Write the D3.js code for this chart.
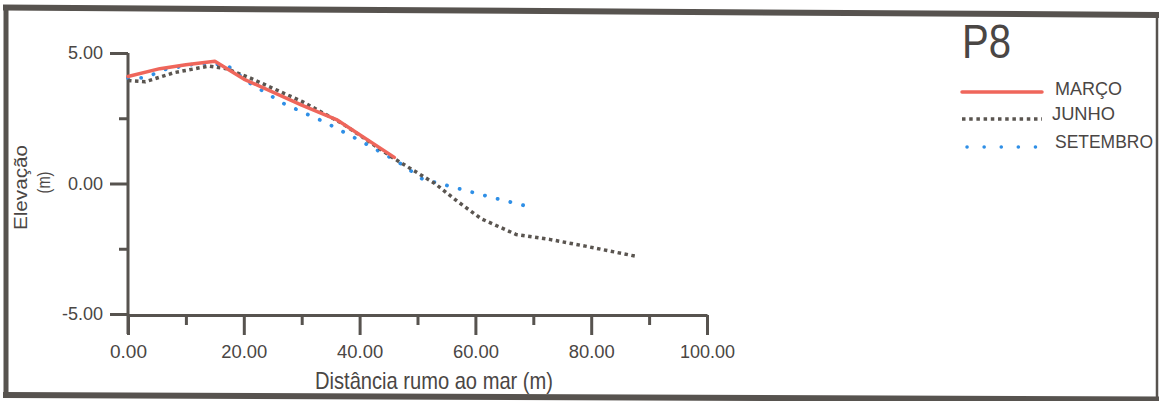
<!DOCTYPE html>
<html lang="pt">
<head>
<meta charset="UTF-8">
<title>P8</title>
<script src="https://d3js.org/d3.v7.min.js"></script>
<style>
  body { margin: 0; background: #fff; }
  svg text { font-family: "Liberation Sans", Arial, Helvetica, sans-serif; fill: #4a4644; }
  .axis path, .axis line { stroke: #57534f; stroke-width: 3px; }
  .axis text { font-size: 18px; fill: #4a4644; }
</style>
</head>
<body>
<svg id="chart" width="1159" height="401"></svg>
<script>
// values (distance m, elevation m)
const marcoDist = [0, 5.5, 10, 15, 20, 30, 36, 46];
const marcoElev = [4.1, 4.4, 4.55, 4.68, 4.0, 3.0, 2.45, 1.0];

const junhoDist = [0, 3, 8, 14, 17, 21, 30, 37, 46, 53, 57, 61, 67, 73, 79, 88];
const junhoElev = [3.95, 3.9, 4.25, 4.5, 4.4, 4.05, 3.15, 2.3, 0.95, 0.0, -0.7, -1.35, -1.95, -2.15, -2.4, -2.8];

const setDist = [0, 3, 6, 12, 17, 21, 27, 34, 40, 46.5, 51, 53, 58, 64, 69.5];
const setElev = [4.05, 4.05, 4.35, 4.6, 4.55, 3.85, 3.05, 2.35, 1.65, 0.85, 0.15, 0.05, -0.25, -0.6, -0.9];

const xMajor = [0, 20, 40, 60, 80, 100];
const xMinor = [10, 30, 50, 70, 90];
const yMajor = [-5, 0, 5];
const yMinor = [-2.5, 2.5];

const seriesNames = ['MARÇO', 'JUNHO', 'SETEMBRO'];

const svg = d3.select('#chart');

// frame (the scan is slightly tilted)
const ink = '#57534f';
svg.append('line').attr('x1', 3).attr('y1', 7.5).attr('x2', 1159).attr('y2', 15)
    .attr('stroke', ink).attr('stroke-width', 6);
svg.append('line').attr('x1', 6).attr('y1', 5).attr('x2', 6).attr('y2', 398)
    .attr('stroke', ink).attr('stroke-width', 5);
svg.append('line').attr('x1', 3).attr('y1', 395).attr('x2', 1159).attr('y2', 399.5)
    .attr('stroke', ink).attr('stroke-width', 6);
svg.append('line').attr('x1', 1157).attr('y1', 13).attr('x2', 1157).attr('y2', 400)
    .attr('stroke', ink).attr('stroke-width', 2.5);

const x = d3.scaleLinear().domain([0, 100]).range([128, 707]);
const y = d3.scaleLinear().domain([-5, 5]).range([314, 53]);

const fmt = d => d.toFixed(2);

// y axis
svg.append('line')
    .attr('x1', x(0)).attr('x2', x(0))
    .attr('y1', y(5)).attr('y2', y(-5) + 20)
    .attr('stroke', ink).attr('stroke-width', 3);

svg.append('g').attr('class', 'axis')
    .attr('transform', `translate(${x(0)},0)`)
    .call(d3.axisLeft(y).tickValues(yMajor).tickSize(18).tickSizeOuter(0)
        .tickPadding(7).tickFormat(fmt))
    .call(g => g.select('.domain').remove());

svg.append('g').attr('class', 'axis')
    .attr('transform', `translate(${x(0)},0)`)
    .call(d3.axisLeft(y).tickValues(yMinor).tickSize(9).tickFormat(''))
    .call(g => g.select('.domain').remove());

// x axis
svg.append('g').attr('class', 'axis')
    .attr('transform', `translate(0,${y(-5) + 1})`)
    .call(d3.axisBottom(x).tickValues(xMajor).tickSize(20).tickSizeOuter(0)
        .tickPadding(10).tickFormat(fmt))
    .call(g => g.selectAll('.tick text').attr('textLength', function () {
        return this.textContent.length > 4 ? (this.textContent.length > 5 ? 55 : 46) : 37;
    }).attr('lengthAdjust', 'spacingAndGlyphs'));

svg.append('g').attr('class', 'axis')
    .attr('transform', `translate(0,${y(-5) + 1})`)
    .call(d3.axisBottom(x).tickValues(xMinor).tickSize(10).tickFormat(''))
    .call(g => g.select('.domain').remove());

// axis titles
svg.append('text')
    .attr('transform', 'translate(434,389) scale(1,1.2)')
    .attr('text-anchor', 'middle')
    .attr('textLength', 238).attr('lengthAdjust', 'spacingAndGlyphs')
    .style('font-size', '20px')
    .text('Distância rumo ao mar (m)');

svg.append('text')
    .attr('transform', 'translate(27,187.5) rotate(-90)')
    .attr('text-anchor', 'middle')
    .attr('textLength', 85).attr('lengthAdjust', 'spacingAndGlyphs')
    .style('font-size', '18px')
    .text('Elevação');
svg.append('text')
    .attr('transform', 'translate(50,182.5) rotate(-90)')
    .attr('text-anchor', 'middle')
    .attr('textLength', 22).attr('lengthAdjust', 'spacingAndGlyphs')
    .style('font-size', '18px')
    .text('(m)');

// lines
const line = d3.line().x(d => x(d[0])).y(d => y(d[1]));

const styles = [
    { color: '#ef665b', width: 3.5, dash: null, cap: 'round', legendDash: null },
    { color: '#5a5550', width: 3.5, dash: '3.5,3.5', cap: 'butt', legendDash: '3.5,3.7' },
    { color: '#2f8fe6', width: 3.8, dash: '0.1,13', cap: 'round', legendDash: '0.1,17' }
];

const series = [
    d3.zip(marcoDist, marcoElev),
    d3.zip(junhoDist, junhoElev),
    d3.zip(setDist, setElev)
];

// draw setembro first, then junho, then março on top
[2, 1, 0].forEach(i => {
    svg.append('path')
        .datum(series[i])
        .attr('d', line)
        .attr('fill', 'none')
        .attr('stroke', styles[i].color)
        .attr('stroke-width', styles[i].width)
        .attr('stroke-linecap', styles[i].cap)
        .attr('stroke-linejoin', 'round')
        .attr('stroke-dasharray', styles[i].dash);
});

// title + legend
svg.append('text')
    .attr('x', 962).attr('y', 58)
    .attr('textLength', 49).attr('lengthAdjust', 'spacingAndGlyphs')
    .style('font-size', '48px')
    .text('P8');

const legendY = [92, 119, 147];
const labelX = [1055, 1052, 1055];
const labelW = [67, 63, 98];
const labelBase = [95, 120, 148];
seriesNames.forEach((name, i) => {
    svg.append('line')
        .attr('x1', i === 2 ? 967 : 962).attr('x2', i === 2 ? 1036 : 1042)
        .attr('y1', legendY[i]).attr('y2', legendY[i])
        .attr('stroke', styles[i].color)
        .attr('stroke-width', 3.5)
        .attr('stroke-linecap', styles[i].cap)
        .attr('stroke-dasharray', styles[i].legendDash);
    svg.append('text')
        .attr('x', labelX[i]).attr('y', labelBase[i])
        .attr('textLength', labelW[i]).attr('lengthAdjust', 'spacingAndGlyphs')
        .style('font-size', '18px')
        .text(name);
});
</script>
</body>
</html>
